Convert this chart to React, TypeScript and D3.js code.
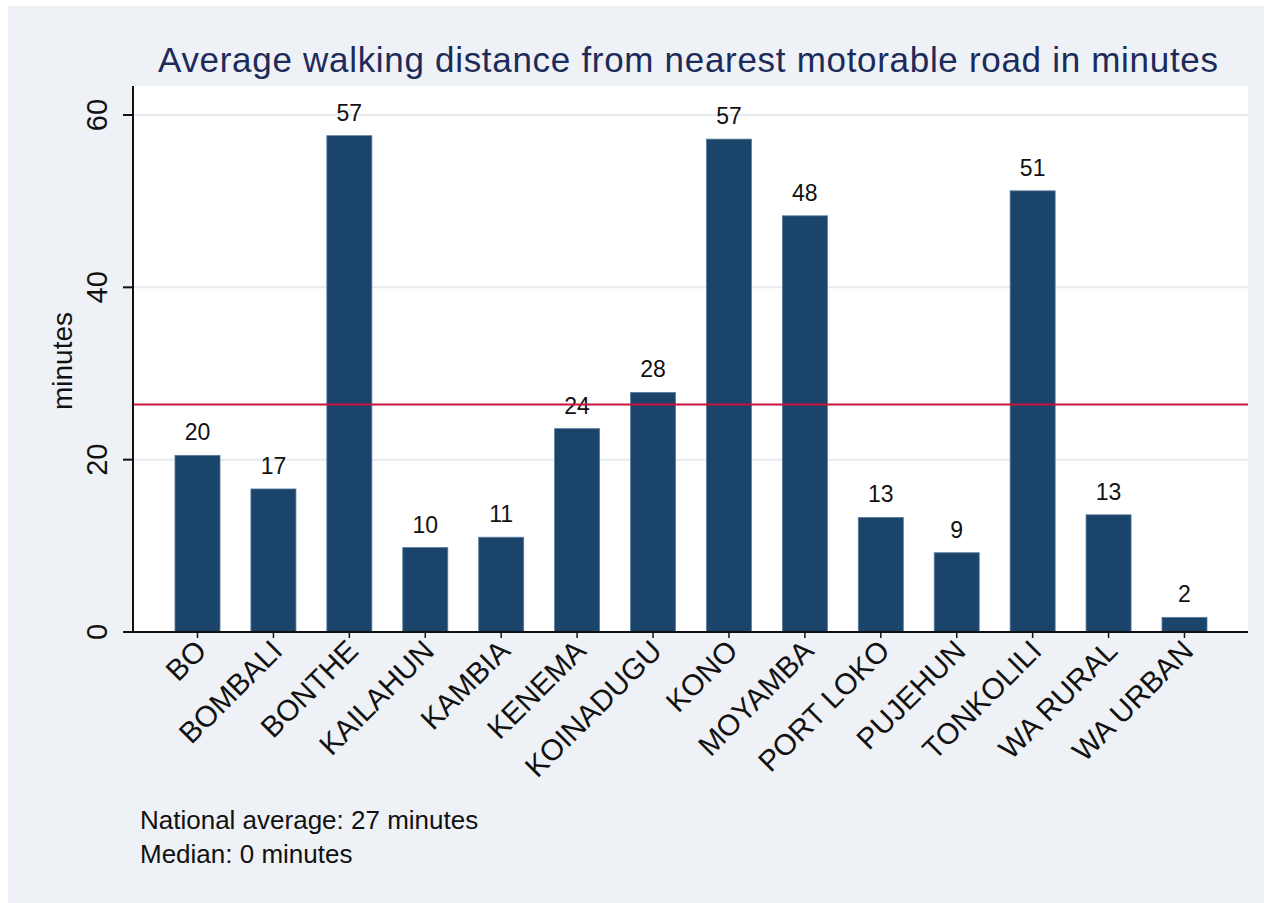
import React, { useEffect, useRef } from 'react';
import * as d3 from 'd3';

const districts = ['BO', 'BOMBALI', 'BONTHE', 'KAILAHUN', 'KAMBIA', 'KENEMA', 'KOINADUGU', 'KONO', 'MOYAMBA', 'PORT LOKO', 'PUJEHUN', 'TONKOLILI', 'WA RURAL', 'WA URBAN'];
const minutes = [20.5, 16.6, 57.6, 9.8, 11.0, 23.6, 27.8, 57.2, 48.3, 13.3, 9.2, 51.2, 13.6, 1.7];
const barLabels = ['20', '17', '57', '10', '11', '24', '28', '57', '48', '13', '9', '51', '13', '2'];
const yTicks = [0, 20, 40, 60];
const nationalAvg = 26.4;
const notes = ['National average: 27 minutes', 'Median: 0 minutes'];

const FONT = '"Liberation Sans", Arial, sans-serif';

const App = () => {
  const ref = useRef<SVGSVGElement>(null);

  useEffect(() => {
    const svg = d3.select(ref.current);
    svg.selectAll('*').remove();

    const W = 1264, H = 903;
    const left = 134, right = 1248, top = 86, bottom = 632;

    // background
    svg.append('rect').attr('x', 8).attr('y', 6).attr('width', W - 8).attr('height', H - 6).attr('fill', '#eef1f6');
    svg.append('rect').attr('x', left).attr('y', top).attr('width', right - left).attr('height', bottom - top).attr('fill', '#ffffff');

    const x = d3.scaleBand().domain(districts).range([left, right]).paddingInner(0.407).paddingOuter(0.54);
    const y = d3.scaleLinear().domain([0, 60]).range([bottom, 115]);

    // grid
    svg.append('g').selectAll('line').data(yTicks.filter(d => d > 0)).join('line')
      .attr('x1', left).attr('x2', right)
      .attr('y1', d => y(d)).attr('y2', d => y(d))
      .attr('stroke', '#e6ebf2').attr('stroke-width', 2);

    // bars
    svg.append('g').selectAll('rect').data(districts).join('rect')
      .attr('x', d => x(d)!)
      .attr('y', (d, i) => y(minutes[i]))
      .attr('width', x.bandwidth())
      .attr('height', (d, i) => bottom - y(minutes[i]))
      .attr('fill', '#1a446a')
      .attr('stroke', '#5a7d9c').attr('stroke-width', 0.8);

    // bar labels
    svg.append('g').selectAll('text').data(districts).join('text')
      .attr('x', d => x(d)! + x.bandwidth() / 2)
      .attr('y', (d, i) => y(minutes[i]) - 15)
      .attr('text-anchor', 'middle')
      .attr('font-family', FONT).attr('font-size', 23).attr('fill', '#111')
      .text((d, i) => barLabels[i]);

    // national average line
    svg.append('line')
      .attr('x1', left).attr('x2', right)
      .attr('y1', y(nationalAvg)).attr('y2', y(nationalAvg))
      .attr('stroke', '#c8143c').attr('stroke-width', 2);

    // y axis
    svg.append('line').attr('x1', left - 1).attr('x2', left - 1).attr('y1', top).attr('y2', bottom + 1)
      .attr('stroke', '#111').attr('stroke-width', 2);
    svg.append('g').selectAll('line').data(yTicks).join('line')
      .attr('x1', left - 11).attr('x2', left - 1)
      .attr('y1', d => y(d)).attr('y2', d => y(d))
      .attr('stroke', '#111').attr('stroke-width', 2);
    svg.append('g').selectAll('text').data(yTicks).join('text')
      .attr('transform', d => `translate(107,${y(d)}) rotate(-90)`)
      .attr('text-anchor', 'middle')
      .attr('font-family', FONT).attr('font-size', 29).attr('fill', '#111')
      .text(d => d);
    svg.append('text')
      .attr('transform', `translate(72,361) rotate(-90)`)
      .attr('text-anchor', 'middle')
      .attr('font-family', FONT).attr('font-size', 28).attr('fill', '#111')
      .text('minutes');

    // x axis
    svg.append('line').attr('x1', left - 10).attr('x2', right).attr('y1', bottom).attr('y2', bottom)
      .attr('stroke', '#111').attr('stroke-width', 2);
    svg.append('g').selectAll('line').data(districts).join('line')
      .attr('x1', d => x(d)! + x.bandwidth() / 2).attr('x2', d => x(d)! + x.bandwidth() / 2)
      .attr('y1', bottom).attr('y2', bottom + 6)
      .attr('stroke', '#111').attr('stroke-width', 1.5);
    svg.append('g').selectAll('text').data(districts).join('text')
      .attr('transform', d => `translate(${x(d)! + x.bandwidth() / 2 - 4},${bottom + 6}) rotate(-45)`)
      .attr('text-anchor', 'end')
      .attr('dy', '0.7em')
      .attr('font-family', FONT).attr('font-size', 29.5).attr('fill', '#111')
      .text(d => d);

    // title
    svg.append('text')
      .attr('x', 158).attr('y', 72)
      .attr('textLength', 1060).attr('lengthAdjust', 'spacing')
      .attr('font-family', FONT).attr('font-size', 35).attr('fill', '#1c2b59')
      .text('Average walking distance from nearest motorable road in minutes');

    // notes
    svg.append('g').selectAll('text').data(notes).join('text')
      .attr('x', 140).attr('y', (d, i) => 829 + i * 34)
      .attr('font-family', FONT).attr('font-size', 26).attr('fill', '#111')
      .text(d => d);
  }, []);

  return (
    <svg ref={ref} width={1264} height={903}
      style={{ position: 'absolute', top: 0, left: 0, display: 'block', background: '#fff' }} />
  );
};

export default App;
